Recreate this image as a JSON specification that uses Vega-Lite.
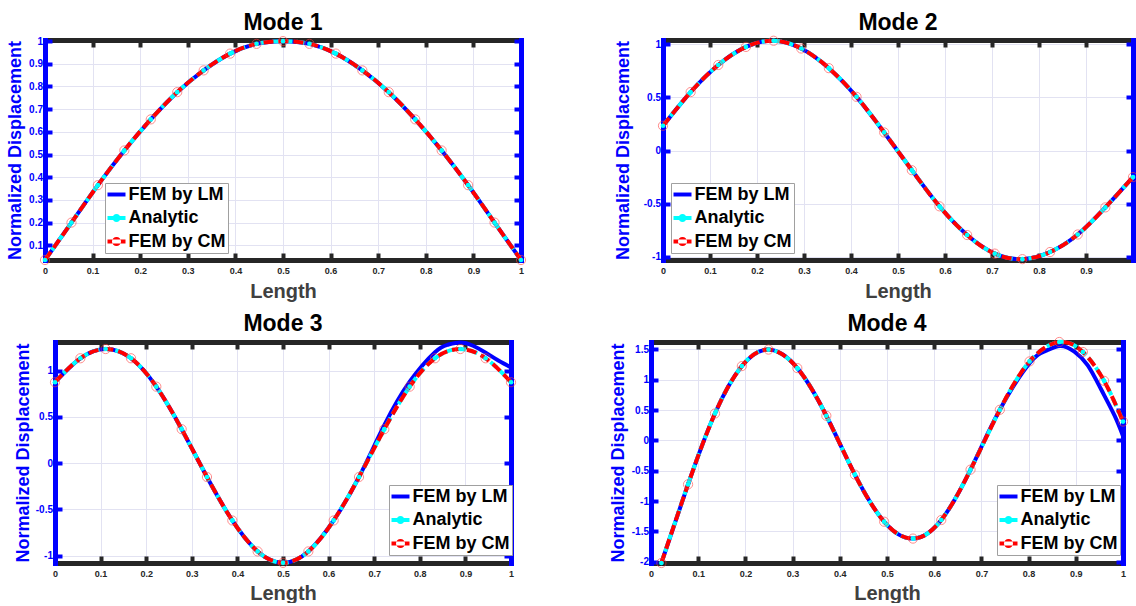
{
  "$schema": "https://vega.github.io/schema/vega-lite/v6.json",
  "background": "white",
  "padding": {"left": 6, "top": 11, "right": 0, "bottom": 0},
  "data": {"values": [
    {"m":1,"s":"FEM by LM","x":0,"y":0.035},{"m":1,"s":"FEM by LM","x":0.0556,"y":0.2},{"m":1,"s":"FEM by LM","x":0.1111,"y":0.365},{"m":1,"s":"FEM by LM","x":0.1667,"y":0.518},{"m":1,"s":"FEM by LM","x":0.2222,"y":0.655},{"m":1,"s":"FEM by LM","x":0.2778,"y":0.775},{"m":1,"s":"FEM by LM","x":0.3333,"y":0.871},{"m":1,"s":"FEM by LM","x":0.3889,"y":0.945},{"m":1,"s":"FEM by LM","x":0.4444,"y":0.988},{"m":1,"s":"FEM by LM","x":0.5,"y":1.0},{"m":1,"s":"FEM by LM","x":0.5556,"y":0.988},{"m":1,"s":"FEM by LM","x":0.6111,"y":0.945},{"m":1,"s":"FEM by LM","x":0.6667,"y":0.871},{"m":1,"s":"FEM by LM","x":0.7222,"y":0.775},{"m":1,"s":"FEM by LM","x":0.7778,"y":0.655},{"m":1,"s":"FEM by LM","x":0.8333,"y":0.518},{"m":1,"s":"FEM by LM","x":0.8889,"y":0.365},{"m":1,"s":"FEM by LM","x":0.9444,"y":0.2},{"m":1,"s":"FEM by LM","x":1,"y":0.035},
    {"m":1,"s":"Analytic","x":0,"y":0.035},{"m":1,"s":"Analytic","x":0.0556,"y":0.2},{"m":1,"s":"Analytic","x":0.1111,"y":0.365},{"m":1,"s":"Analytic","x":0.1667,"y":0.518},{"m":1,"s":"Analytic","x":0.2222,"y":0.655},{"m":1,"s":"Analytic","x":0.2778,"y":0.775},{"m":1,"s":"Analytic","x":0.3333,"y":0.871},{"m":1,"s":"Analytic","x":0.3889,"y":0.945},{"m":1,"s":"Analytic","x":0.4444,"y":0.988},{"m":1,"s":"Analytic","x":0.5,"y":1.0},{"m":1,"s":"Analytic","x":0.5556,"y":0.988},{"m":1,"s":"Analytic","x":0.6111,"y":0.945},{"m":1,"s":"Analytic","x":0.6667,"y":0.871},{"m":1,"s":"Analytic","x":0.7222,"y":0.775},{"m":1,"s":"Analytic","x":0.7778,"y":0.655},{"m":1,"s":"Analytic","x":0.8333,"y":0.518},{"m":1,"s":"Analytic","x":0.8889,"y":0.365},{"m":1,"s":"Analytic","x":0.9444,"y":0.2},{"m":1,"s":"Analytic","x":1,"y":0.035},
    {"m":1,"s":"FEM by CM","x":0,"y":0.035},{"m":1,"s":"FEM by CM","x":0.0556,"y":0.2},{"m":1,"s":"FEM by CM","x":0.1111,"y":0.365},{"m":1,"s":"FEM by CM","x":0.1667,"y":0.518},{"m":1,"s":"FEM by CM","x":0.2222,"y":0.655},{"m":1,"s":"FEM by CM","x":0.2778,"y":0.775},{"m":1,"s":"FEM by CM","x":0.3333,"y":0.871},{"m":1,"s":"FEM by CM","x":0.3889,"y":0.945},{"m":1,"s":"FEM by CM","x":0.4444,"y":0.988},{"m":1,"s":"FEM by CM","x":0.5,"y":1.0},{"m":1,"s":"FEM by CM","x":0.5556,"y":0.988},{"m":1,"s":"FEM by CM","x":0.6111,"y":0.945},{"m":1,"s":"FEM by CM","x":0.6667,"y":0.871},{"m":1,"s":"FEM by CM","x":0.7222,"y":0.775},{"m":1,"s":"FEM by CM","x":0.7778,"y":0.655},{"m":1,"s":"FEM by CM","x":0.8333,"y":0.518},{"m":1,"s":"FEM by CM","x":0.8889,"y":0.365},{"m":1,"s":"FEM by CM","x":0.9444,"y":0.2},{"m":1,"s":"FEM by CM","x":1,"y":0.035},

    {"m":2,"s":"FEM by LM","x":0,"y":0.233},{"m":2,"s":"FEM by LM","x":0.0588,"y":0.55},{"m":2,"s":"FEM by LM","x":0.1176,"y":0.805},{"m":2,"s":"FEM by LM","x":0.1765,"y":0.975},{"m":2,"s":"FEM by LM","x":0.2353,"y":1.033},{"m":2,"s":"FEM by LM","x":0.2941,"y":0.96},{"m":2,"s":"FEM by LM","x":0.3529,"y":0.775},{"m":2,"s":"FEM by LM","x":0.4118,"y":0.505},{"m":2,"s":"FEM by LM","x":0.4706,"y":0.17},{"m":2,"s":"FEM by LM","x":0.5294,"y":-0.185},{"m":2,"s":"FEM by LM","x":0.5882,"y":-0.525},{"m":2,"s":"FEM by LM","x":0.6471,"y":-0.795},{"m":2,"s":"FEM by LM","x":0.7059,"y":-0.97},{"m":2,"s":"FEM by LM","x":0.7647,"y":-1.022},{"m":2,"s":"FEM by LM","x":0.8235,"y":-0.955},{"m":2,"s":"FEM by LM","x":0.8824,"y":-0.79},{"m":2,"s":"FEM by LM","x":0.9412,"y":-0.535},{"m":2,"s":"FEM by LM","x":1,"y":-0.25},
    {"m":2,"s":"Analytic","x":0,"y":0.233},{"m":2,"s":"Analytic","x":0.0588,"y":0.55},{"m":2,"s":"Analytic","x":0.1176,"y":0.805},{"m":2,"s":"Analytic","x":0.1765,"y":0.975},{"m":2,"s":"Analytic","x":0.2353,"y":1.033},{"m":2,"s":"Analytic","x":0.2941,"y":0.96},{"m":2,"s":"Analytic","x":0.3529,"y":0.775},{"m":2,"s":"Analytic","x":0.4118,"y":0.505},{"m":2,"s":"Analytic","x":0.4706,"y":0.17},{"m":2,"s":"Analytic","x":0.5294,"y":-0.185},{"m":2,"s":"Analytic","x":0.5882,"y":-0.525},{"m":2,"s":"Analytic","x":0.6471,"y":-0.795},{"m":2,"s":"Analytic","x":0.7059,"y":-0.97},{"m":2,"s":"Analytic","x":0.7647,"y":-1.022},{"m":2,"s":"Analytic","x":0.8235,"y":-0.955},{"m":2,"s":"Analytic","x":0.8824,"y":-0.79},{"m":2,"s":"Analytic","x":0.9412,"y":-0.535},{"m":2,"s":"Analytic","x":1,"y":-0.25},
    {"m":2,"s":"FEM by CM","x":0,"y":0.233},{"m":2,"s":"FEM by CM","x":0.0588,"y":0.55},{"m":2,"s":"FEM by CM","x":0.1176,"y":0.805},{"m":2,"s":"FEM by CM","x":0.1765,"y":0.975},{"m":2,"s":"FEM by CM","x":0.2353,"y":1.033},{"m":2,"s":"FEM by CM","x":0.2941,"y":0.96},{"m":2,"s":"FEM by CM","x":0.3529,"y":0.775},{"m":2,"s":"FEM by CM","x":0.4118,"y":0.505},{"m":2,"s":"FEM by CM","x":0.4706,"y":0.17},{"m":2,"s":"FEM by CM","x":0.5294,"y":-0.185},{"m":2,"s":"FEM by CM","x":0.5882,"y":-0.525},{"m":2,"s":"FEM by CM","x":0.6471,"y":-0.795},{"m":2,"s":"FEM by CM","x":0.7059,"y":-0.97},{"m":2,"s":"FEM by CM","x":0.7647,"y":-1.022},{"m":2,"s":"FEM by CM","x":0.8235,"y":-0.955},{"m":2,"s":"FEM by CM","x":0.8824,"y":-0.79},{"m":2,"s":"FEM by CM","x":0.9412,"y":-0.535},{"m":2,"s":"FEM by CM","x":1,"y":-0.25},

    {"m":3,"s":"FEM by LM","x":0,"y":0.875},{"m":3,"s":"FEM by LM","x":0.0556,"y":1.134},{"m":3,"s":"FEM by LM","x":0.1111,"y":1.234},{"m":3,"s":"FEM by LM","x":0.1667,"y":1.134},{"m":3,"s":"FEM by LM","x":0.2222,"y":0.827},{"m":3,"s":"FEM by LM","x":0.2778,"y":0.367},{"m":3,"s":"FEM by LM","x":0.3333,"y":-0.15},{"m":3,"s":"FEM by LM","x":0.3889,"y":-0.62},{"m":3,"s":"FEM by LM","x":0.4444,"y":-0.955},{"m":3,"s":"FEM by LM","x":0.5,"y":-1.078},{"m":3,"s":"FEM by LM","x":0.5556,"y":-0.955},{"m":3,"s":"FEM by LM","x":0.6111,"y":-0.62},{"m":3,"s":"FEM by LM","x":0.6667,"y":-0.15},{"m":3,"s":"FEM by LM","x":0.7222,"y":0.41},{"m":3,"s":"FEM by LM","x":0.7778,"y":0.88},{"m":3,"s":"FEM by LM","x":0.8333,"y":1.2},{"m":3,"s":"FEM by LM","x":0.8611,"y":1.28},{"m":3,"s":"FEM by LM","x":0.8889,"y":1.305},{"m":3,"s":"FEM by LM","x":0.9167,"y":1.27},{"m":3,"s":"FEM by LM","x":0.9444,"y":1.195},{"m":3,"s":"FEM by LM","x":0.9722,"y":1.11},{"m":3,"s":"FEM by LM","x":1,"y":1.035},
    {"m":3,"s":"Analytic","x":0,"y":0.875},{"m":3,"s":"Analytic","x":0.0556,"y":1.134},{"m":3,"s":"Analytic","x":0.1111,"y":1.234},{"m":3,"s":"Analytic","x":0.1667,"y":1.134},{"m":3,"s":"Analytic","x":0.2222,"y":0.827},{"m":3,"s":"Analytic","x":0.2778,"y":0.367},{"m":3,"s":"Analytic","x":0.3333,"y":-0.15},{"m":3,"s":"Analytic","x":0.3889,"y":-0.62},{"m":3,"s":"Analytic","x":0.4444,"y":-0.955},{"m":3,"s":"Analytic","x":0.5,"y":-1.078},{"m":3,"s":"Analytic","x":0.5556,"y":-0.955},{"m":3,"s":"Analytic","x":0.6111,"y":-0.62},{"m":3,"s":"Analytic","x":0.6667,"y":-0.15},{"m":3,"s":"Analytic","x":0.7222,"y":0.367},{"m":3,"s":"Analytic","x":0.7778,"y":0.827},{"m":3,"s":"Analytic","x":0.8333,"y":1.134},{"m":3,"s":"Analytic","x":0.8889,"y":1.234},{"m":3,"s":"Analytic","x":0.9444,"y":1.134},{"m":3,"s":"Analytic","x":1,"y":0.875},
    {"m":3,"s":"FEM by CM","x":0,"y":0.875},{"m":3,"s":"FEM by CM","x":0.0556,"y":1.134},{"m":3,"s":"FEM by CM","x":0.1111,"y":1.234},{"m":3,"s":"FEM by CM","x":0.1667,"y":1.134},{"m":3,"s":"FEM by CM","x":0.2222,"y":0.827},{"m":3,"s":"FEM by CM","x":0.2778,"y":0.367},{"m":3,"s":"FEM by CM","x":0.3333,"y":-0.15},{"m":3,"s":"FEM by CM","x":0.3889,"y":-0.62},{"m":3,"s":"FEM by CM","x":0.4444,"y":-0.955},{"m":3,"s":"FEM by CM","x":0.5,"y":-1.078},{"m":3,"s":"FEM by CM","x":0.5556,"y":-0.955},{"m":3,"s":"FEM by CM","x":0.6111,"y":-0.62},{"m":3,"s":"FEM by CM","x":0.6667,"y":-0.15},{"m":3,"s":"FEM by CM","x":0.7222,"y":0.367},{"m":3,"s":"FEM by CM","x":0.7778,"y":0.827},{"m":3,"s":"FEM by CM","x":0.8333,"y":1.134},{"m":3,"s":"FEM by CM","x":0.8889,"y":1.234},{"m":3,"s":"FEM by CM","x":0.9444,"y":1.134},{"m":3,"s":"FEM by CM","x":1,"y":0.875},

    {"m":4,"s":"FEM by LM","x":0.022,"y":-2.02},{"m":4,"s":"FEM by LM","x":0.0785,"y":-0.725},{"m":4,"s":"FEM by LM","x":0.1355,"y":0.442},{"m":4,"s":"FEM by LM","x":0.1925,"y":1.223},{"m":4,"s":"FEM by LM","x":0.249,"y":1.495},{"m":4,"s":"FEM by LM","x":0.31,"y":1.19},{"m":4,"s":"FEM by LM","x":0.3715,"y":0.405},{"m":4,"s":"FEM by LM","x":0.432,"y":-0.565},{"m":4,"s":"FEM by LM","x":0.494,"y":-1.34},{"m":4,"s":"FEM by LM","x":0.555,"y":-1.618},{"m":4,"s":"FEM by LM","x":0.615,"y":-1.312},{"m":4,"s":"FEM by LM","x":0.677,"y":-0.482},{"m":4,"s":"FEM by LM","x":0.739,"y":0.503},{"m":4,"s":"FEM by LM","x":0.802,"y":1.27},{"m":4,"s":"FEM by LM","x":0.835,"y":1.47},{"m":4,"s":"FEM by LM","x":0.867,"y":1.555},{"m":4,"s":"FEM by LM","x":0.897,"y":1.46},{"m":4,"s":"FEM by LM","x":0.925,"y":1.24},{"m":4,"s":"FEM by LM","x":0.953,"y":0.85},{"m":4,"s":"FEM by LM","x":0.982,"y":0.41},{"m":4,"s":"FEM by LM","x":1,"y":0.07},
    {"m":4,"s":"Analytic","x":0.022,"y":-2.02},{"m":4,"s":"Analytic","x":0.0785,"y":-0.725},{"m":4,"s":"Analytic","x":0.1355,"y":0.442},{"m":4,"s":"Analytic","x":0.1925,"y":1.223},{"m":4,"s":"Analytic","x":0.249,"y":1.495},{"m":4,"s":"Analytic","x":0.31,"y":1.19},{"m":4,"s":"Analytic","x":0.3715,"y":0.405},{"m":4,"s":"Analytic","x":0.432,"y":-0.565},{"m":4,"s":"Analytic","x":0.494,"y":-1.34},{"m":4,"s":"Analytic","x":0.555,"y":-1.618},{"m":4,"s":"Analytic","x":0.615,"y":-1.312},{"m":4,"s":"Analytic","x":0.677,"y":-0.482},{"m":4,"s":"Analytic","x":0.739,"y":0.503},{"m":4,"s":"Analytic","x":0.802,"y":1.3},{"m":4,"s":"Analytic","x":0.865,"y":1.62},{"m":4,"s":"Analytic","x":0.915,"y":1.455},{"m":4,"s":"Analytic","x":0.96,"y":0.98},{"m":4,"s":"Analytic","x":1,"y":0.31},
    {"m":4,"s":"FEM by CM","x":0.022,"y":-2.02},{"m":4,"s":"FEM by CM","x":0.0785,"y":-0.725},{"m":4,"s":"FEM by CM","x":0.1355,"y":0.442},{"m":4,"s":"FEM by CM","x":0.1925,"y":1.223},{"m":4,"s":"FEM by CM","x":0.249,"y":1.495},{"m":4,"s":"FEM by CM","x":0.31,"y":1.19},{"m":4,"s":"FEM by CM","x":0.3715,"y":0.405},{"m":4,"s":"FEM by CM","x":0.432,"y":-0.565},{"m":4,"s":"FEM by CM","x":0.494,"y":-1.34},{"m":4,"s":"FEM by CM","x":0.555,"y":-1.618},{"m":4,"s":"FEM by CM","x":0.615,"y":-1.312},{"m":4,"s":"FEM by CM","x":0.677,"y":-0.482},{"m":4,"s":"FEM by CM","x":0.739,"y":0.503},{"m":4,"s":"FEM by CM","x":0.802,"y":1.3},{"m":4,"s":"FEM by CM","x":0.865,"y":1.62},{"m":4,"s":"FEM by CM","x":0.915,"y":1.455},{"m":4,"s":"FEM by CM","x":0.96,"y":0.98},{"m":4,"s":"FEM by CM","x":1,"y":0.31}
  ]},
  "center": true,
  "spacing": 11,
  "resolve": {"scale": {"color": "independent", "shape": "independent"}},
  "vconcat": [
    {
      "spacing": 142,
      "bounds": "flush",
      "resolve": {"scale": {"color": "independent", "shape": "independent"}},
      "hconcat": [
        {
          "width": 476, "height": 220,
          "title": {"text": "Mode 1"},
          "transform": [{"filter": "datum.m == 1"}],
          "encoding": {
            "x": {"field": "x", "type": "quantitative", "scale": {"domain": [0, 1], "nice": false, "zero": false}, "axis": null},
            "y": {"field": "y", "type": "quantitative", "scale": {"domain": [0.035, 1.005], "nice": false, "zero": false}, "axis": null}
          },
          "layer": [
            {"transform": [{"filter": "datum.s == 'FEM by LM'"}],
             "mark": {"type": "line", "color": "#0000ff", "strokeWidth": 4, "interpolate": "natural"},
             "encoding": {
               "x": {"field": "x", "type": "quantitative", "scale": {"domain": [0, 1], "nice": false, "zero": false},
                     "axis": {"orient": "bottom", "values": [0,0.1,0.2,0.3,0.4,0.5,0.6,0.7,0.8,0.9,1], "labelColor": "#262626", "domainColor": "#262626", "tickColor": "#262626", "labelPadding": 13, "grid": true, "title": "Length", "titleFontSize": 20, "titleColor": "#404040", "titlePadding": 6}},
               "y": {"field": "y", "type": "quantitative", "scale": {"domain": [0.035, 1.005], "nice": false, "zero": false},
                     "axis": {"orient": "left", "values": [0.1,0.2,0.3,0.4,0.5,0.6,0.7,0.8,0.9,1], "labelFontSize": 10, "labelColor": "#0000ff", "domainColor": "#0000ff", "tickColor": "#0000ff", "labelPadding": 9.5, "grid": true, "title": "Normalized Displacement", "titleFontSize": 18, "titleColor": "#0000ff", "titlePadding": 4}}
             }},
            {"transform": [{"filter": "datum.s == 'Analytic'"}],
             "mark": {"type": "line", "color": "#00ffff", "strokeWidth": 4, "strokeDash": [8, 4], "interpolate": "natural"},
             "encoding": {
               "x": {"field": "x", "type": "quantitative", "scale": {"domain": [0, 1], "nice": false, "zero": false},
                     "axis": {"orient": "top", "values": [0,0.1,0.2,0.3,0.4,0.5,0.6,0.7,0.8,0.9,1], "labels": false, "domainColor": "#262626", "tickColor": "#262626", "grid": false, "title": null}},
               "y": {"field": "y", "type": "quantitative", "scale": {"domain": [0.035, 1.005], "nice": false, "zero": false},
                     "axis": {"orient": "right", "values": [0.1,0.2,0.3,0.4,0.5,0.6,0.7,0.8,0.9,1], "labels": false, "domainColor": "#0000ff", "tickColor": "#0000ff", "grid": false, "title": null}}
             }},
            {"transform": [{"filter": "datum.s == 'FEM by CM'"}],
             "mark": {"type": "line", "color": "#ff0000", "strokeWidth": 4, "strokeDash": [10, 5], "interpolate": "natural"},
             "encoding": {}},
            {"transform": [{"filter": "datum.s == 'Analytic'"}],
             "mark": {"type": "point", "filled": true, "color": "#00ffff", "size": 22, "opacity": 1}},
            {"transform": [{"filter": "datum.s == 'FEM by CM'"}],
             "mark": {"type": "point", "filled": false, "color": "#ff4040", "size": 85, "strokeWidth": 1, "opacity": 0.6}},
            {"mark": {"type": "point", "filled": true, "opacity": 0},
             "encoding": {
               "color": {"field": "s", "type": "nominal", "scale": {"domain": ["FEM by LM", "Analytic", "FEM by CM"], "range": ["#0000ff", "#00ffff", "#ff0000"]},
                         "legend": {"title": null, "orient": "none", "legendX": 60, "legendY": 143}},
               "shape": {"field": "s", "type": "nominal", "scale": {"domain": ["FEM by LM", "Analytic", "FEM by CM"], "range": ["M-1,-0.22H1V0.22H-1Z", "M-1,-0.22H1V0.22H-1ZM-0.45,0A0.45,0.45,0,1,1,0.45,0A0.45,0.45,0,1,1,-0.45,0Z", "M-1,-0.22H1V0.22H-1ZM-0.5,0A0.5,0.5,0,1,0,0.5,0A0.5,0.5,0,1,0,-0.5,0Z"]},
                         "legend": {"title": null, "orient": "none", "legendX": 60, "legendY": 143}}
             }}
          ],
          "resolve": {"axis": {"x": "independent", "y": "independent"}}
        },
        {
          "width": 470, "height": 220,
          "title": {"text": "Mode 2"},
          "transform": [{"filter": "datum.m == 2"}],
          "encoding": {
            "x": {"field": "x", "type": "quantitative", "scale": {"domain": [0, 1], "nice": false, "zero": false}, "axis": null},
            "y": {"field": "y", "type": "quantitative", "scale": {"domain": [-1.03, 1.04], "nice": false, "zero": false}, "axis": null}
          },
          "layer": [
            {"transform": [{"filter": "datum.s == 'FEM by LM'"}],
             "mark": {"type": "line", "color": "#0000ff", "strokeWidth": 4, "interpolate": "natural"},
             "encoding": {
               "x": {"field": "x", "type": "quantitative", "scale": {"domain": [0, 1], "nice": false, "zero": false},
                     "axis": {"orient": "bottom", "values": [0,0.1,0.2,0.3,0.4,0.5,0.6,0.7,0.8,0.9], "labelColor": "#262626", "domainColor": "#262626", "tickColor": "#262626", "labelPadding": 13, "grid": true, "title": "Length", "titleFontSize": 20, "titleColor": "#404040", "titlePadding": 6}},
               "y": {"field": "y", "type": "quantitative", "scale": {"domain": [-1.03, 1.04], "nice": false, "zero": false},
                     "axis": {"orient": "left", "values": [-1,-0.5,0,0.5,1], "labelFontSize": 10, "labelColor": "#0000ff", "domainColor": "#0000ff", "tickColor": "#0000ff", "labelPadding": 9.5, "grid": true, "title": "Normalized Displacement", "titleFontSize": 18, "titleColor": "#0000ff", "titlePadding": 11}}
             }},
            {"transform": [{"filter": "datum.s == 'Analytic'"}],
             "mark": {"type": "line", "color": "#00ffff", "strokeWidth": 4, "strokeDash": [8, 4], "interpolate": "natural"},
             "encoding": {
               "x": {"field": "x", "type": "quantitative", "scale": {"domain": [0, 1], "nice": false, "zero": false},
                     "axis": {"orient": "top", "values": [0,0.1,0.2,0.3,0.4,0.5,0.6,0.7,0.8,0.9], "labels": false, "domainColor": "#262626", "tickColor": "#262626", "grid": false, "title": null}},
               "y": {"field": "y", "type": "quantitative", "scale": {"domain": [-1.03, 1.04], "nice": false, "zero": false},
                     "axis": {"orient": "right", "values": [-1,-0.5,0,0.5,1], "labels": false, "domainColor": "#0000ff", "tickColor": "#0000ff", "grid": false, "title": null}}
             }},
            {"transform": [{"filter": "datum.s == 'FEM by CM'"}],
             "mark": {"type": "line", "color": "#ff0000", "strokeWidth": 4, "strokeDash": [10, 5], "interpolate": "natural"},
             "encoding": {}},
            {"transform": [{"filter": "datum.s == 'Analytic'"}],
             "mark": {"type": "point", "filled": true, "color": "#00ffff", "size": 22, "opacity": 1}},
            {"transform": [{"filter": "datum.s == 'FEM by CM'"}],
             "mark": {"type": "point", "filled": false, "color": "#ff4040", "size": 85, "strokeWidth": 1, "opacity": 0.6}},
            {"mark": {"type": "point", "filled": true, "opacity": 0},
             "encoding": {
               "color": {"field": "s", "type": "nominal", "scale": {"domain": ["FEM by LM", "Analytic", "FEM by CM"], "range": ["#0000ff", "#00ffff", "#ff0000"]},
                         "legend": {"title": null, "orient": "none", "legendX": 8, "legendY": 143}},
               "shape": {"field": "s", "type": "nominal", "scale": {"domain": ["FEM by LM", "Analytic", "FEM by CM"], "range": ["M-1,-0.22H1V0.22H-1Z", "M-1,-0.22H1V0.22H-1ZM-0.45,0A0.45,0.45,0,1,1,0.45,0A0.45,0.45,0,1,1,-0.45,0Z", "M-1,-0.22H1V0.22H-1ZM-0.5,0A0.5,0.5,0,1,0,0.5,0A0.5,0.5,0,1,0,-0.5,0Z"]},
                         "legend": {"title": null, "orient": "none", "legendX": 8, "legendY": 143}}
             }}
          ],
          "resolve": {"axis": {"x": "independent", "y": "independent"}}
        }
      ]
    },
    {
      "spacing": 140,
      "bounds": "flush",
      "resolve": {"scale": {"color": "independent", "shape": "independent"}},
      "hconcat": [
        {
          "width": 456, "height": 221,
          "title": {"text": "Mode 3"},
          "transform": [{"filter": "datum.m == 3"}],
          "encoding": {
            "x": {"field": "x", "type": "quantitative", "scale": {"domain": [0, 1], "nice": false, "zero": false}, "axis": null},
            "y": {"field": "y", "type": "quantitative", "scale": {"domain": [-1.08, 1.31], "nice": false, "zero": false}, "axis": null}
          },
          "layer": [
            {"transform": [{"filter": "datum.s == 'FEM by LM'"}],
             "mark": {"type": "line", "color": "#0000ff", "strokeWidth": 4, "interpolate": "natural"},
             "encoding": {
               "x": {"field": "x", "type": "quantitative", "scale": {"domain": [0, 1], "nice": false, "zero": false},
                     "axis": {"orient": "bottom", "values": [0,0.1,0.2,0.3,0.4,0.5,0.6,0.7,0.8,0.9,1], "labelColor": "#262626", "domainColor": "#262626", "tickColor": "#262626", "labelPadding": 13, "grid": true, "title": "Length", "titleFontSize": 20, "titleColor": "#404040", "titlePadding": 5}},
               "y": {"field": "y", "type": "quantitative", "scale": {"domain": [-1.08, 1.31], "nice": false, "zero": false},
                     "axis": {"orient": "left", "values": [-1,-0.5,0,0.5,1], "labelFontSize": 10, "labelColor": "#0000ff", "domainColor": "#0000ff", "tickColor": "#0000ff", "labelPadding": 9.5, "grid": true, "title": "Normalized Displacement", "titleFontSize": 18, "titleColor": "#0000ff", "titlePadding": 3}}
             }},
            {"transform": [{"filter": "datum.s == 'Analytic'"}],
             "mark": {"type": "line", "color": "#00ffff", "strokeWidth": 4, "strokeDash": [8, 4], "interpolate": "natural"},
             "encoding": {
               "x": {"field": "x", "type": "quantitative", "scale": {"domain": [0, 1], "nice": false, "zero": false},
                     "axis": {"orient": "top", "values": [0,0.1,0.2,0.3,0.4,0.5,0.6,0.7,0.8,0.9,1], "labels": false, "domainColor": "#262626", "tickColor": "#262626", "grid": false, "title": null}},
               "y": {"field": "y", "type": "quantitative", "scale": {"domain": [-1.08, 1.31], "nice": false, "zero": false},
                     "axis": {"orient": "right", "values": [-1,-0.5,0,0.5,1], "labels": false, "domainColor": "#0000ff", "tickColor": "#0000ff", "grid": false, "title": null}}
             }},
            {"transform": [{"filter": "datum.s == 'FEM by CM'"}],
             "mark": {"type": "line", "color": "#ff0000", "strokeWidth": 4, "strokeDash": [10, 5], "interpolate": "natural"},
             "encoding": {}},
            {"transform": [{"filter": "datum.s == 'Analytic'"}],
             "mark": {"type": "point", "filled": true, "color": "#00ffff", "size": 22, "opacity": 1}},
            {"transform": [{"filter": "datum.s == 'FEM by CM'"}],
             "mark": {"type": "point", "filled": false, "color": "#ff4040", "size": 85, "strokeWidth": 1, "opacity": 0.6}},
            {"mark": {"type": "point", "filled": true, "opacity": 0},
             "encoding": {
               "color": {"field": "s", "type": "nominal", "scale": {"domain": ["FEM by LM", "Analytic", "FEM by CM"], "range": ["#0000ff", "#00ffff", "#ff0000"]},
                         "legend": {"title": null, "orient": "none", "legendX": 334, "legendY": 143}},
               "shape": {"field": "s", "type": "nominal", "scale": {"domain": ["FEM by LM", "Analytic", "FEM by CM"], "range": ["M-1,-0.22H1V0.22H-1Z", "M-1,-0.22H1V0.22H-1ZM-0.45,0A0.45,0.45,0,1,1,0.45,0A0.45,0.45,0,1,1,-0.45,0Z", "M-1,-0.22H1V0.22H-1ZM-0.5,0A0.5,0.5,0,1,0,0.5,0A0.5,0.5,0,1,0,-0.5,0Z"]},
                         "legend": {"title": null, "orient": "none", "legendX": 334, "legendY": 143}}
             }}
          ],
          "resolve": {"axis": {"x": "independent", "y": "independent"}}
        },
        {
          "width": 472, "height": 221,
          "title": {"text": "Mode 4"},
          "transform": [{"filter": "datum.m == 4"}],
          "encoding": {
            "x": {"field": "x", "type": "quantitative", "scale": {"domain": [0, 1], "nice": false, "zero": false}, "axis": null},
            "y": {"field": "y", "type": "quantitative", "scale": {"domain": [-2.02, 1.62], "nice": false, "zero": false}, "axis": null}
          },
          "layer": [
            {"transform": [{"filter": "datum.s == 'FEM by LM'"}],
             "mark": {"type": "line", "color": "#0000ff", "strokeWidth": 4, "interpolate": "natural"},
             "encoding": {
               "x": {"field": "x", "type": "quantitative", "scale": {"domain": [0, 1], "nice": false, "zero": false},
                     "axis": {"orient": "bottom", "values": [0,0.1,0.2,0.3,0.4,0.5,0.6,0.7,0.8,0.9,1], "labelColor": "#262626", "domainColor": "#262626", "tickColor": "#262626", "labelPadding": 13, "grid": true, "title": "Length", "titleFontSize": 20, "titleColor": "#404040", "titlePadding": 5}},
               "y": {"field": "y", "type": "quantitative", "scale": {"domain": [-2.02, 1.62], "nice": false, "zero": false},
                     "axis": {"orient": "left", "values": [-2,-1.5,-1,-0.5,0,0.5,1,1.5], "labelFontSize": 10, "labelColor": "#0000ff", "domainColor": "#0000ff", "tickColor": "#0000ff", "labelPadding": 9.5, "grid": true, "title": "Normalized Displacement", "titleFontSize": 18, "titleColor": "#0000ff", "titlePadding": 4}}
             }},
            {"transform": [{"filter": "datum.s == 'Analytic'"}],
             "mark": {"type": "line", "color": "#00ffff", "strokeWidth": 4, "strokeDash": [8, 4], "interpolate": "natural"},
             "encoding": {
               "x": {"field": "x", "type": "quantitative", "scale": {"domain": [0, 1], "nice": false, "zero": false},
                     "axis": {"orient": "top", "values": [0,0.1,0.2,0.3,0.4,0.5,0.6,0.7,0.8,0.9,1], "labels": false, "domainColor": "#262626", "tickColor": "#262626", "grid": false, "title": null}},
               "y": {"field": "y", "type": "quantitative", "scale": {"domain": [-2.02, 1.62], "nice": false, "zero": false},
                     "axis": {"orient": "right", "values": [-2,-1.5,-1,-0.5,0,0.5,1,1.5], "labels": false, "domainColor": "#0000ff", "tickColor": "#0000ff", "grid": false, "title": null}}
             }},
            {"transform": [{"filter": "datum.s == 'FEM by CM'"}],
             "mark": {"type": "line", "color": "#ff0000", "strokeWidth": 4, "strokeDash": [10, 5], "interpolate": "natural"},
             "encoding": {}},
            {"transform": [{"filter": "datum.s == 'Analytic'"}],
             "mark": {"type": "point", "filled": true, "color": "#00ffff", "size": 22, "opacity": 1}},
            {"transform": [{"filter": "datum.s == 'FEM by CM'"}],
             "mark": {"type": "point", "filled": false, "color": "#ff4040", "size": 85, "strokeWidth": 1, "opacity": 0.6}},
            {"mark": {"type": "point", "filled": true, "opacity": 0},
             "encoding": {
               "color": {"field": "s", "type": "nominal", "scale": {"domain": ["FEM by LM", "Analytic", "FEM by CM"], "range": ["#0000ff", "#00ffff", "#ff0000"]},
                         "legend": {"title": null, "orient": "none", "legendX": 346, "legendY": 143}},
               "shape": {"field": "s", "type": "nominal", "scale": {"domain": ["FEM by LM", "Analytic", "FEM by CM"], "range": ["M-1,-0.22H1V0.22H-1Z", "M-1,-0.22H1V0.22H-1ZM-0.45,0A0.45,0.45,0,1,1,0.45,0A0.45,0.45,0,1,1,-0.45,0Z", "M-1,-0.22H1V0.22H-1ZM-0.5,0A0.5,0.5,0,1,0,0.5,0A0.5,0.5,0,1,0,-0.5,0Z"]},
                         "legend": {"title": null, "orient": "none", "legendX": 346, "legendY": 143}}
             }}
          ],
          "resolve": {"axis": {"x": "independent", "y": "independent"}}
        }
      ]
    }
  ],
  "config": {
    "font": "Liberation Sans",
    "view": {"stroke": null},
    "title": {"font": "Liberation Sans", "fontSize": 23, "fontWeight": "bold", "color": "#000000", "offset": -2, "frame": "group", "anchor": "middle"},
    "axis": {
      "labelFont": "Liberation Sans", "labelFontSize": 9, "labelFontWeight": "bold",
      "labelFlush": false, "labelOverlap": false, "labelBound": false,
      "labelExpr": "'' + datum.value",
      "domainWidth": 5, "domainCap": "square", "tickWidth": 4, "tickSize": -7,
      "gridColor": "#e2e2f2", "gridWidth": 1, "gridOpacity": 1,
      "titleFont": "Liberation Sans", "titleFontWeight": "bold"
    },
    "legend": {
      "labelFont": "Liberation Sans", "labelFontSize": 18, "labelFontWeight": "bold", "labelColor": "#000000",
      "strokeColor": "#a0a0a0", "fillColor": "#ffffff", "padding": 2.5, "rowPadding": 5.5, "labelOffset": 3,
      "symbolSize": 324, "symbolOpacity": 1, "symbolStrokeWidth": 0, "direction": "vertical", "offset": 0
    }
  }
}
